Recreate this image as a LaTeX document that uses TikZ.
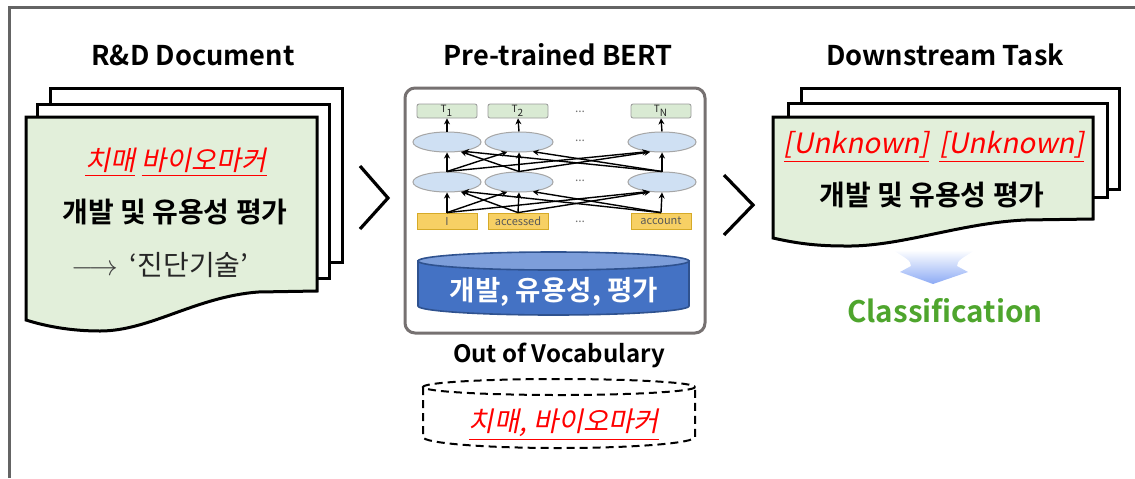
\documentclass[tikz,border=0pt]{standalone}
\usepackage{fontspec}
\setmainfont{Noto Sans CJK KR}[BoldFont={Noto Sans CJK KR Bold},AutoFakeSlant=0.2]
\newfontfamily\kr{Noto Sans CJK KR}[BoldFont={Noto Sans CJK KR Bold},AutoFakeSlant=0.2]
\usetikzlibrary{shapes.geometric,arrows.meta}

\definecolor{framegray}{RGB}{100,100,100}
\definecolor{docgreen}{RGB}{226,239,218}
\definecolor{tgreen}{RGB}{217,234,211}
\definecolor{ellblue}{RGB}{207,224,243}
\definecolor{inyellow}{RGB}{247,208,100}
\definecolor{inedge}{RGB}{214,170,40}
\definecolor{bertgray}{RGB}{118,113,113}
\definecolor{cylblue}{RGB}{68,114,196}
\definecolor{cyltop}{RGB}{125,158,218}
\definecolor{cyledge}{RGB}{47,82,143}
\definecolor{arrowblue}{RGB}{140,170,245}
\definecolor{classgreen}{RGB}{78,165,45}
\definecolor{textdark}{RGB}{38,38,38}

\tikzset{
  frame/.style={draw=framegray, line width=1.5pt},
  page/.style={draw=black, line width=1.5pt, fill=white, line join=miter},
  frontpage/.style={draw=black, line width=1.5pt, fill=docgreen, line join=miter},
  head/.style={font=\bfseries\fontsize{13.6}{16}\selectfont, inner sep=0pt},
  krbold/.style={font=\kr\bfseries\fontsize{14}{16}\selectfont, inner sep=0pt},
  krred/.style={font=\kr\itshape\fontsize{13.6}{16}\selectfont, text=red, inner sep=0pt},
  chevron/.style={draw=black, line width=1.6pt, line join=miter},
  tbox/.style={rectangle, rounded corners=1pt, draw=gray!80, fill=tgreen, line width=0.4pt,
    minimum width=30pt, minimum height=7pt, inner sep=0pt, text=textdark,
    font=\fontsize{5}{5}\selectfont},
  inbox/.style={rectangle, draw=inedge, fill=inyellow, line width=0.4pt,
    minimum width=30pt, minimum height=8pt, inner sep=0pt, text=black!65,
    font=\fontsize{5.5}{5.5}\selectfont},
  enc/.style={ellipse, draw=gray!70, fill=ellblue, line width=0.5pt,
    minimum width=34pt, minimum height=10pt, inner sep=0pt},
  dots/.style={text=black!55, font=\fontsize{6}{6}\selectfont, inner sep=0pt},
  bertarrow/.style={draw=black, line width=0.7pt, -{Stealth[length=3pt,width=3pt]}},
}

\begin{document}
\begin{tikzpicture}[x=0.5pt,y=-0.5pt]
\useasboundingbox (0,0) rectangle (1135,478);

% outer frame (left and top edges)
\draw[frame] (9,478) -- (9,7) -- (1135,7);

% ---------- R&D document stack ----------
\node[head] (h1) at (193,55) {R\&D Document};
\draw[page] (50,88) rectangle (342,262);
\draw[page] (37,104) rectangle (329,278);
\draw[frontpage] (26,117) -- (317,117) -- (317,291) -- (258,292)
  .. controls (195,297) and (150,331) .. (100,331)
  .. controls (70,331) and (45,326) .. (26,320) -- cycle;
\node[krred] (lt1) at (176,162) {\underline{치매} \underline{바이오마커}};
\node[krbold] (lt2) at (175,212) {개발 및 유용성 평가};
\node[font=\kr\fontsize{14}{16}\selectfont, text=textdark, inner sep=0pt] (lt3) at (160,265)
  {\textcolor{black!75}{$\longrightarrow$}\hspace{6pt}‘진단기술’};

% chevrons between stages
\draw[chevron] (360,166) -- (388,198) -- (360,229);
\draw[chevron] (724,175) -- (753,205) -- (724,235);

% ---------- Pre-trained BERT ----------
\node[head] (h2) at (558,55) {Pre-trained BERT};
\draw[draw=bertgray, line width=1.5pt, rounded corners=5pt, fill=white] (405,88) rectangle (705,333);

\node[tbox] (T1) at (447,111) {T\textsubscript{1}};
\node[tbox] (T2) at (518,111) {T\textsubscript{2}};
\node[tbox] (TN) at (661,111) {T\textsubscript{N}};
\node[enc] (U1) at (447,142) {};
\node[enc] (U2) at (519,142) {};
\node[enc] (UN) at (662,142) {};
\node[enc] (L1) at (447,182) {};
\node[enc] (L2) at (519,182) {};
\node[enc] (LN) at (662,182) {};
\node[inbox] (in1) at (447,221) {I};
\node[inbox] (in2) at (518,221) {accessed};
\node[inbox] (inN) at (661,221) {account};
\node[dots] (d1) at (580,112) {...};
\node[dots] (d2) at (580,141) {...};
\node[dots] (d3) at (580,181) {...};
\node[dots] (d4) at (580,222) {...};

\foreach \s/\t/\an in {1/1/south, 1/2/-140, 1/N/-145, 2/1/-35, 2/2/south, 2/N/-140, N/1/-30, N/2/-35, N/N/south} {
  \draw[bertarrow] (in\s.north) -- (L\t.\an);
  \draw[bertarrow] (L\s.north) -- (U\t.\an);
}
\foreach \c in {1,2,N} \draw[bertarrow] (U\c.north) -- (T\c.south);

% vocabulary cylinder
\filldraw[fill=cylblue, draw=cyledge, line width=0.8pt] (418,261) -- (418,306)
  arc[start angle=180, end angle=0, x radius=135.5, y radius=9] -- (689,261) -- cycle;
\filldraw[fill=cyltop, draw=cyledge, line width=0.8pt] (553.5,261) ellipse[x radius=135.5, y radius=9];
\node[krbold, text=white, font=\kr\bfseries\fontsize{13.8}{16}\selectfont] (voc) at (554,292) {개발, 유용성, 평가};

% out of vocabulary
\node[head, font=\bfseries\fontsize{12}{14}\selectfont] (oov) at (559,355) {Out of Vocabulary};
\draw[dashed, dash pattern=on 4pt off 2.5pt, line width=1pt] (559,387) ellipse[x radius=136, y radius=8];
\draw[dashed, dash pattern=on 4pt off 2.5pt, line width=1pt] (423,387) -- (423,437)
  arc[start angle=180, end angle=0, x radius=136, y radius=11] -- (695,387);
\node[krred, font=\kr\itshape\fontsize{13.7}{16}\selectfont] (oovw) at (564,425) {\underline{치매, 바이오마커}};

% ---------- Downstream task ----------
\node[head] (h3) at (945,55) {Downstream Task};
\draw[page] (801,88) rectangle (1119,189);
\draw[page] (788,103) rectangle (1107,197);
\draw[frontpage] (773,117) -- (1093,117) -- (1093,219) -- (1025,220)
  .. controls (960,223) and (900,247) .. (845,246)
  .. controls (815,246) and (795,243) .. (773,238) -- cycle;
\node[font=\itshape\fontsize{14}{16}\selectfont, text=red, inner sep=0pt] (unk) at (934,147)
  {\underline{[Unknown]}\hspace{5pt}\underline{[Unknown]}};
\node[krbold] (rt2) at (932,195) {개발 및 유용성 평가};

% downward arrow and result
\shade[top color=white, bottom color=arrowblue] (893,250)
  .. controls (905,258) and (911,260) .. (911,266) -- (900,272) -- (933,284)
  -- (968,272) -- (957,266) .. controls (957,260) and (963,258) .. (975,250) -- cycle;
\node[font=\bfseries\fontsize{14.8}{17}\selectfont, text=classgreen, inner sep=0pt] (cls) at (945,311) {Classification};

\end{tikzpicture}
\end{document}
